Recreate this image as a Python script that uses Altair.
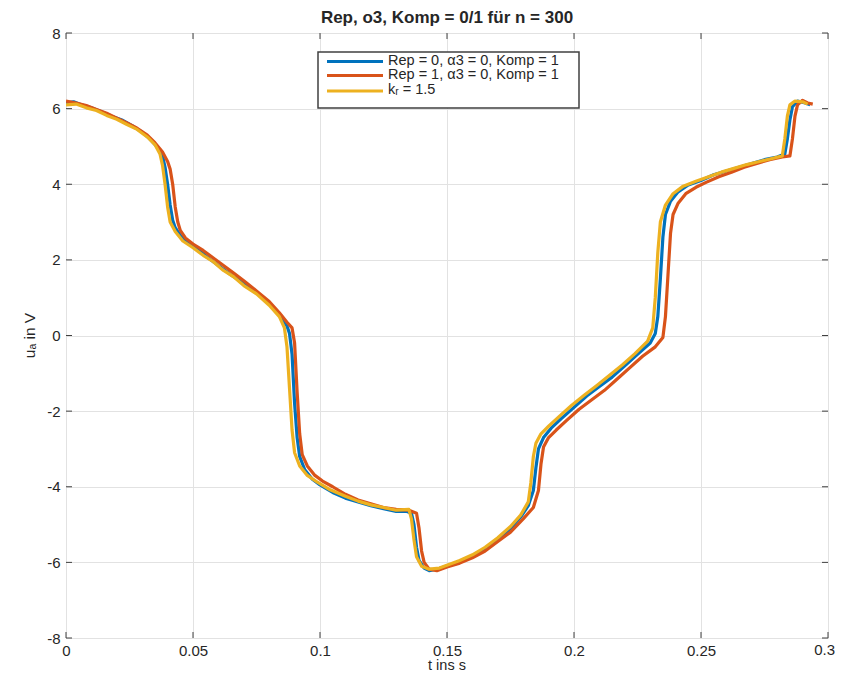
import altair as alt
import pandas as pd

# ---- data ----
t_rep0 = [0.000, 0.003, 0.006, 0.010, 0.014, 0.018, 0.022, 0.026, 0.030, 0.033, 0.036, 0.038, 0.039, 0.040,
          0.041, 0.042, 0.043, 0.045, 0.048, 0.052, 0.056, 0.060, 0.065, 0.070, 0.075, 0.080, 0.084, 0.087,
          0.088, 0.089, 0.090, 0.091, 0.092, 0.094, 0.097, 0.100, 0.105, 0.110, 0.115, 0.120, 0.125, 0.130,
          0.134, 0.136, 0.137, 0.138, 0.139, 0.141, 0.143, 0.146, 0.150, 0.155, 0.160, 0.165, 0.170, 0.175,
          0.179, 0.182, 0.184, 0.185, 0.186, 0.188, 0.191, 0.195, 0.200, 0.205, 0.210, 0.215, 0.220, 0.225,
          0.230, 0.232, 0.233, 0.234, 0.235, 0.236, 0.238, 0.241, 0.245, 0.250, 0.255, 0.260, 0.265, 0.270,
          0.275, 0.280, 0.283, 0.284, 0.285, 0.286, 0.288, 0.291, 0.293]
u_rep0 = [6.15, 6.18, 6.10, 6.02, 5.92, 5.80, 5.70, 5.55, 5.38, 5.20, 4.98, 4.75, 4.45, 4.00,
          3.45, 3.05, 2.85, 2.65, 2.45, 2.28, 2.05, 1.85, 1.60, 1.38, 1.15, 0.85, 0.55, 0.25,
          0.05, -0.50, -1.80, -2.70, -3.20, -3.55, -3.80, -3.95, -4.15, -4.30, -4.40, -4.50, -4.58, -4.65,
          -4.65, -4.70, -5.00, -5.60, -5.95, -6.15, -6.22, -6.18, -6.10, -6.00, -5.85, -5.65, -5.40, -5.10,
          -4.80, -4.50, -4.10, -3.50, -3.00, -2.70, -2.45, -2.20, -1.90, -1.60, -1.35, -1.10, -0.80, -0.50,
          -0.20, 0.05, 0.50, 1.50, 2.60, 3.20, 3.55, 3.80, 3.98, 4.10, 4.25, 4.35, 4.45, 4.55,
          4.65, 4.72, 4.80, 5.20, 5.70, 6.05, 6.20, 6.15, 6.10]

t_rep1 = [0.000, 0.004, 0.008, 0.012, 0.016, 0.020, 0.024, 0.028, 0.032, 0.035, 0.038, 0.040, 0.041, 0.042,
          0.043, 0.044, 0.045, 0.047, 0.050, 0.054, 0.058, 0.062, 0.066, 0.070, 0.075, 0.080, 0.084, 0.087,
          0.089, 0.090, 0.091, 0.092, 0.093, 0.095, 0.098, 0.101, 0.105, 0.110, 0.115, 0.120, 0.125, 0.130,
          0.135, 0.138, 0.139, 0.140, 0.141, 0.143, 0.146, 0.150, 0.155, 0.160, 0.165, 0.170, 0.175, 0.180,
          0.184, 0.186, 0.187, 0.188, 0.190, 0.193, 0.197, 0.202, 0.207, 0.212, 0.217, 0.222, 0.227, 0.232,
          0.235, 0.236, 0.237, 0.238, 0.239, 0.241, 0.244, 0.248, 0.252, 0.257, 0.262, 0.267, 0.272, 0.277,
          0.282, 0.285, 0.286, 0.287, 0.288, 0.290, 0.292, 0.294]
u_rep1 = [6.20, 6.15, 6.08, 5.98, 5.88, 5.75, 5.62, 5.48, 5.30, 5.10, 4.85, 4.60, 4.40, 4.00,
          3.40, 3.00, 2.78, 2.58, 2.42, 2.25, 2.05, 1.85, 1.65, 1.45, 1.18, 0.90, 0.60, 0.35,
          0.20, -0.20, -1.50, -2.60, -3.15, -3.45, -3.70, -3.85, -4.00, -4.20, -4.35, -4.45, -4.55, -4.60,
          -4.62, -4.70, -5.10, -5.70, -6.00, -6.18, -6.22, -6.12, -6.02, -5.88, -5.70, -5.45, -5.20, -4.85,
          -4.55, -4.10, -3.40, -2.95, -2.70, -2.50, -2.25, -1.95, -1.70, -1.45, -1.15, -0.85, -0.55, -0.30,
          -0.05, 0.50, 1.60, 2.70, 3.20, 3.50, 3.75, 3.92, 4.05, 4.20, 4.32, 4.45, 4.55, 4.65,
          4.72, 4.75, 5.20, 5.80, 6.10, 6.22, 6.15, 6.12]

t_kr = [0.000, 0.004, 0.008, 0.012, 0.016, 0.020, 0.024, 0.028, 0.032, 0.035, 0.037, 0.038, 0.039, 0.040,
        0.041, 0.043, 0.046, 0.050, 0.054, 0.058, 0.062, 0.066, 0.070, 0.075, 0.080, 0.084, 0.086, 0.087,
        0.088, 0.089, 0.090, 0.092, 0.095, 0.099, 0.104, 0.110, 0.115, 0.120, 0.125, 0.130, 0.135, 0.136,
        0.137, 0.138, 0.140, 0.143, 0.147, 0.151, 0.155, 0.160, 0.165, 0.170, 0.175, 0.179, 0.182, 0.183,
        0.184, 0.185, 0.187, 0.190, 0.194, 0.199, 0.204, 0.209, 0.214, 0.219, 0.224, 0.229, 0.231, 0.232,
        0.233, 0.234, 0.236, 0.239, 0.243, 0.248, 0.253, 0.258, 0.263, 0.268, 0.273, 0.278, 0.282, 0.283,
        0.284, 0.285, 0.287, 0.290, 0.292]
u_kr = [6.10, 6.12, 6.02, 5.95, 5.82, 5.72, 5.58, 5.45, 5.25, 5.05, 4.80, 4.50, 4.00, 3.40,
        3.00, 2.75, 2.50, 2.32, 2.12, 1.95, 1.72, 1.55, 1.32, 1.10, 0.80, 0.50, 0.20, -0.30,
        -1.40, -2.50, -3.10, -3.45, -3.70, -3.88, -4.08, -4.25, -4.38, -4.48, -4.55, -4.62, -4.60, -4.85,
        -5.40, -5.85, -6.10, -6.18, -6.15, -6.05, -5.95, -5.80, -5.60, -5.35, -5.05, -4.75, -4.40, -3.90,
        -3.20, -2.85, -2.60, -2.40, -2.15, -1.85, -1.58, -1.32, -1.05, -0.78, -0.48, -0.15, 0.20, 1.00,
        2.20, 3.00, 3.45, 3.75, 3.95, 4.08, 4.20, 4.32, 4.42, 4.52, 4.60, 4.68, 4.75, 5.20,
        5.80, 6.10, 6.20, 6.18, 6.12]

series_names = ["Rep = 0, α3 = 0, Komp = 1", "Rep = 1, α3 = 0, Komp = 1", "kᵣ = 1.5"]
series_colors = ["#0072BD", "#D95319", "#EDB120"]
x_ticks = [0, 0.05, 0.1, 0.15, 0.2, 0.25, 0.3]
y_ticks = [-8, -6, -4, -2, 0, 2, 4, 6, 8]
title_text = "Rep, o3, Komp = 0/1 für n = 300"
x_title = "t ins s"
y_title = "uₐ in V"

FONT = "Liberation Sans"
TXT = "#262626"
W, H = 762, 605
LABEL_FS = 15

frames = []
for name, ts, us in zip(series_names, [t_rep0, t_rep1, t_kr], [u_rep0, u_rep1, u_kr]):
    frames.append(pd.DataFrame({"t": ts, "u": us, "series": name}))
df = pd.concat(frames, ignore_index=True)
df["idx"] = df.index

xscale = alt.Scale(domain=[0, 0.3], nice=False, zero=False)
yscale = alt.Scale(domain=[-8, 8], nice=False, zero=False)

last_x = x_ticks[-1]
xaxis = alt.Axis(values=x_ticks, title=None, grid=True, domain=False, ticks=False,
                 labelFlush=False, labelBound=False,
                 labelExpr=f"datum.value == {last_x} ? '' : '' + datum.value",
                 labelFontSize=LABEL_FS, labelPadding=5, labelBaseline="top",
                 labelColor=TXT, gridColor="#e2e2e2", gridWidth=1, labelFont=FONT)
yaxis = alt.Axis(values=y_ticks, title=None, grid=True, domain=False, ticks=False,
                 labelFlush=False, labelBound=False,
                 labelExpr="'' + datum.value", labelFontSize=LABEL_FS, labelPadding=6,
                 labelColor=TXT, gridColor="#e2e2e2", gridWidth=1, labelFont=FONT)

one = pd.DataFrame({"a": [0]})
base = alt.Chart(df)
layers = []
# axes / grid carrier
layers.append(alt.Chart(pd.DataFrame({"t": [0], "u": [0]})).mark_point(opacity=0).encode(
    x=alt.X("t:Q", scale=xscale, axis=xaxis), y=alt.Y("u:Q", scale=yscale, axis=yaxis)))

for name, col in zip(series_names, series_colors):
    layers.append(base.transform_filter(alt.datum.series == name).mark_line(
        color=col, strokeWidth=3.2, strokeJoin="round", clip=True).encode(
        x=alt.X("t:Q", scale=xscale), y=alt.Y("u:Q", scale=yscale), order="idx:Q"))

# last x tick label, kept inside the right edge
layers.append(alt.Chart(pd.DataFrame({"t": [last_x], "label": [str(last_x)]})).mark_text(
    align="right", baseline="top", dx=7, fontSize=LABEL_FS, font=FONT, color=TXT).encode(
    x=alt.X("t:Q", scale=xscale), y=alt.value(H + 5), text="label:N"))

# inside ticks (MATLAB style)
xt = pd.DataFrame({"t": x_ticks})
yt = pd.DataFrame({"u": y_ticks})
tick_col = "#404040"
layers.append(alt.Chart(xt).mark_rule(color=tick_col, strokeWidth=1).encode(
    x=alt.X("t:Q", scale=xscale), y=alt.value(H), y2=alt.value(H - 6)))
layers.append(alt.Chart(xt).mark_rule(color=tick_col, strokeWidth=1).encode(
    x=alt.X("t:Q", scale=xscale), y=alt.value(0), y2=alt.value(6)))
layers.append(alt.Chart(yt).mark_rule(color=tick_col, strokeWidth=1).encode(
    y=alt.Y("u:Q", scale=yscale), x=alt.value(0), x2=alt.value(6)))
layers.append(alt.Chart(yt).mark_rule(color=tick_col, strokeWidth=1).encode(
    y=alt.Y("u:Q", scale=yscale), x=alt.value(W), x2=alt.value(W - 6)))

# legend box
lx0, ly0, lx1, ly1 = 252, 19, 513, 75
layers.append(alt.Chart(one).mark_rect(
    fill="white", stroke="#404040", strokeWidth=1.5).encode(
    x=alt.value(lx0), x2=alt.value(lx1), y=alt.value(ly0), y2=alt.value(ly1)))
row_y = [28.5, 42.5, 58]
for name, col, ry in zip(series_names, series_colors, row_y):
    layers.append(alt.Chart(one).mark_rule(color=col, strokeWidth=3).encode(
        x=alt.value(lx0 + 9), x2=alt.value(lx0 + 65), y=alt.value(ry)))
    layers.append(alt.Chart(pd.DataFrame({"label": [name]})).mark_text(
        align="left", baseline="middle", fontSize=14.5, font=FONT, color=TXT).encode(
        x=alt.value(lx0 + 70), y=alt.value(ry - 1), text="label:N"))

# titles as text marks
layers.append(alt.Chart(pd.DataFrame({"label": [title_text]})).mark_text(
    align="center", baseline="middle", fontSize=17, fontWeight="bold", font=FONT, color=TXT).encode(
    x=alt.value(W / 2), y=alt.value(-15), text="label:N"))
layers.append(alt.Chart(pd.DataFrame({"label": [x_title]})).mark_text(
    align="center", baseline="middle", fontSize=14.5, font=FONT, color=TXT).encode(
    x=alt.value(W / 2), y=alt.value(H + 27.5), text="label:N"))
layers.append(alt.Chart(pd.DataFrame({"label": [y_title]})).mark_text(
    align="center", baseline="middle", fontSize=15.5, font=FONT, color=TXT, angle=270).encode(
    x=alt.value(-36), y=alt.value(H / 2), text="label:N"))

chart = alt.layer(*layers).properties(
    width=W, height=H,
    autosize=alt.AutoSizeParams(type="none"),
    padding={"left": 58, "top": 25, "right": 7, "bottom": 35},
).configure_view(stroke="#555555", strokeWidth=1.5).configure(background="white")

chart.save("out.html", embed_options={"renderer": "svg", "actions": False})
